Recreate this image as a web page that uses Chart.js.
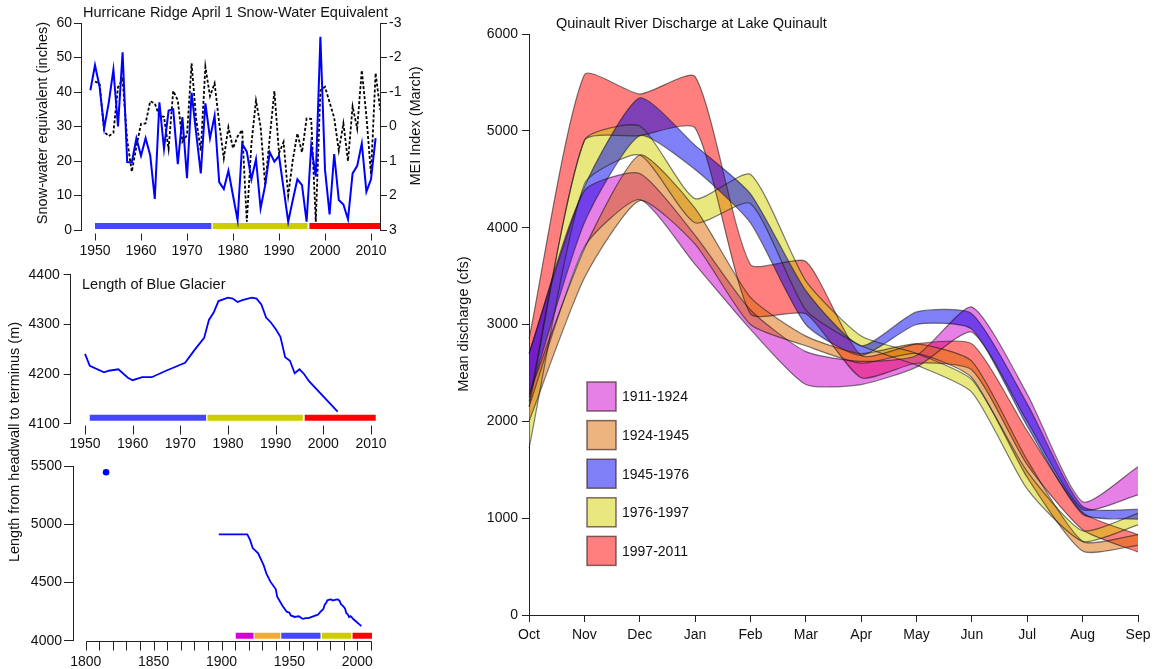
<!DOCTYPE html>
<html>
<head>
<meta charset="utf-8">
<script src="https://cdn.jsdelivr.net/npm/chart.js@4"></script>
<style>
  html, body { margin: 0; padding: 0; background: #fff; }
  .layer { position: absolute; left: 0; top: 0; width: 1156px; height: 669px; pointer-events: none; }
</style>
</head>
<body>
<div class="layer"><canvas id="swe" width="1156" height="669"></canvas></div>
<div class="layer"><canvas id="blueGlacier" width="1156" height="669"></canvas></div>
<div class="layer"><canvas id="longGlacier" width="1156" height="669"></canvas></div>
<div class="layer"><canvas id="river" width="1156" height="669"></canvas></div>
<script>
// ---------------- data ----------------
// Hurricane Ridge April 1 snow-water equivalent (inches)
const sweYears = [1949,1950,1951,1952,1953,1954,1955,1956,1957,1958,1959,1960,1961,1962,1963,1964,1965,1966,1967,1968,1969,1970,1971,1972,1973,1974,1975,1976,1977,1978,1979,1980,1981,1982,1983,1984,1985,1986,1987,1988,1989,1990,1991,1992,1993,1994,1995,1996,1997,1998,1999,2000,2001,2002,2003,2004,2005,2006,2007,2008,2009,2010,2011];
const sweInches = [40.5,47.8,41.5,29.5,37,46.5,30,51.5,19.7,19.6,26.6,21.5,26.6,21.7,9,37,23.5,34.6,35,19.1,32.7,15,39.8,28,16.4,36.7,26.6,33.1,13.9,11.9,17.2,10,2.9,25,22.7,14.7,20.5,6.3,13,22.5,19.8,21.5,12,2.4,8.7,14.7,13,2.4,24.4,15.5,56,17.5,4.5,22,8.7,7.4,3.1,16.4,18.6,25.1,11.1,14.7,26.6];

// March MEI index
const meiYears = [1950,1951,1952,1953,1954,1955,1956,1957,1958,1959,1960,1961,1962,1963,1964,1965,1966,1967,1968,1969,1970,1971,1972,1973,1974,1975,1976,1977,1978,1979,1980,1981,1982,1983,1984,1985,1986,1987,1988,1989,1990,1991,1992,1993,1994,1995,1996,1997,1998,1999,2000,2001,2002,2003,2004,2005,2006,2007,2008,2009,2010,2011,2012];
const meiMarch = [-1.3,-1.25,0.15,0.28,0.18,-1.14,-1.37,0.4,1.31,0.58,-0.08,-0.09,-0.73,-0.67,-0.3,-0.28,0.65,-1.03,-0.76,0.44,0.25,-1.83,-0.2,0.7,-1.73,-0.88,-1.25,-0.1,0.92,0.02,0.63,0.29,0.1,2.76,0.5,-0.75,0.0,1.71,0.3,-1.03,0.77,0.45,2.0,0.97,0.2,0.75,-0.23,-0.22,2.76,-1.05,-1.15,-0.7,-0.25,0.7,-0.09,1.0,-0.58,0.06,-1.63,-0.3,1.38,-1.55,-0.48];

// Blue Glacier length from headwall to terminus (m)
const glacierYears = [1898,1919,1921,1923,1927,1931,1933,1936,1940,1941,1945,1948,1950,1951,1954,1955,1957,1959,1960,1962,1964,1967,1970,1971,1973,1975,1976,1977,1978,1980,1981,1982,1983,1985,1986,1987,1988,1989,1990,1991,1992,1993,1994,1995,1996,1997,2003];
const glacierLength = [4913,4913,4865,4795,4750,4650,4578,4507,4441,4378,4298,4249,4241,4217,4204,4207,4210,4193,4188,4194,4194,4207,4219,4223,4249,4273,4309,4324,4347,4354,4352,4345,4349,4354,4352,4340,4314,4304,4291,4275,4234,4227,4202,4210,4200,4186,4125];
// Little Ice Age moraine position
const moraineYear = [1815];
const moraineLength = [5446];

// period spans shown as coloured bars under each series
const sweBarSpans = [[1950,1975.3],[1975.6,1996.2],[1996.6,2012]];
const blueBarSpans = [[1951,1975.4],[1975.7,1995.7],[1996.1,2011]];
const longBarSpans = [[1910.5,1923.6],[1924.3,1943.3],[1944,1972.9],[1974,1995.6],[1996.5,2010.8]];
const threeBarColors = ['#4646ff', '#cccc00', '#ff0000'];
const fiveBarColors = ['#d400d4', '#f4aa33', '#4646ff', '#cccc00', '#ff0000'];

// Quinault River mean monthly discharge bands (cfs), low / high edge
const months = ['Oct','Nov','Dec','Jan','Feb','Mar','Apr','May','Jun','Jul','Aug','Sep'];
const periodNames = ['1911-1924','1924-1945','1945-1976','1976-1997','1997-2011'];
const q1911Low  = [2150,3800,4290,3620,2950,2380,2380,2560,2920,2000,1090,1240];
const q1911High = [2700,4380,4560,3920,3150,2720,2620,2680,3180,2280,1170,1530];
const q1924Low  = [2000,3480,4280,3830,3000,2780,2600,2700,2450,1420,660,720];
const q1924High = [2280,3780,4750,4200,3280,2880,2700,2800,2620,1600,760,830];
const q1945Low  = [2250,4050,4950,4600,4050,3000,2680,3000,2950,1950,1040,990];
const q1945High = [2700,4420,5340,4850,4350,3350,2780,3130,3110,2180,1120,1090];
const q1976Low  = [1720,4450,4750,4050,4250,3150,2780,2580,2300,1300,760,930];
const q1976High = [2200,4900,5050,4300,4550,3450,2880,2700,2430,1480,870,1050];
const q1997Low  = [2150,4900,4950,5030,3110,3110,2450,2600,2530,1550,880,650];
const q1997High = [2850,5580,5380,5560,3620,3650,2680,2800,2800,1900,1060,830];

// ---------------- shared styling ----------------
const FONT = 'Liberation Sans, Arial, Helvetica, sans-serif';
const INK = '#111';
const AXIS = '#222';
const tickFont = { family: FONT, size: 14 };

const bandFill = {
  '1911-1924': 'rgba(205,0,205,0.5)',
  '1924-1945': 'rgba(220,105,0,0.5)',
  '1945-1976': 'rgba(0,0,240,0.5)',
  '1976-1997': 'rgba(210,210,0,0.5)',
  '1997-2011': 'rgba(255,0,0,0.5)'
};

function xy(xs, ys) { return xs.map((x, i) => ({ x: x, y: ys[i] })); }
const plain = v => String(v);

// free text: titles and axis captions
const panelText = {
  id: 'panelText',
  afterDraw(chart, args, opts) {
    const ctx = chart.ctx;
    (opts.items || []).forEach(it => {
      ctx.save();
      ctx.font = (it.size || 14) + 'px ' + FONT;
      ctx.fillStyle = INK;
      ctx.textAlign = it.align || 'left';
      ctx.textBaseline = 'middle';
      ctx.translate(it.x, it.y);
      if (it.rot) ctx.rotate(it.rot);
      ctx.fillText(it.text, 0, 0);
      ctx.restore();
    });
  }
};

// base-graphics style x axis: ticks hanging below, line from first to last tick
const hangingAxis = {
  id: 'hangingAxis',
  afterDraw(chart, args, opts) {
    if (opts.offset === undefined) return;
    const s = chart.scales.x, ctx = chart.ctx;
    const y0 = Math.round(chart.chartArea.bottom + opts.offset) + 0.5;
    const px = s.ticks.map(t => Math.round(s.getPixelForValue(t.value)) + 0.5);
    ctx.save();
    ctx.strokeStyle = AXIS;
    ctx.lineWidth = 1;
    ctx.beginPath();
    if (opts.line) { ctx.moveTo(px[0], y0); ctx.lineTo(px[px.length - 1], y0); }
    px.forEach(p => { ctx.moveTo(p, y0); ctx.lineTo(p, y0 + opts.len); });
    ctx.stroke();
    ctx.restore();
  }
};

// boxed legend inside the discharge plot
const bandLegend = {
  id: 'bandLegend',
  afterDraw(chart, args, opts) {
    if (!opts.x) return;
    const ctx = chart.ctx;
    periodNames.forEach((name, i) => {
      const top = opts.y + i * opts.step;
      ctx.save();
      ctx.fillStyle = bandFill[name];
      ctx.fillRect(opts.x, top, opts.size, opts.size);
      ctx.strokeStyle = 'rgba(60,30,30,0.65)';
      ctx.lineWidth = 1.5;
      ctx.strokeRect(opts.x, top, opts.size, opts.size);
      ctx.fillStyle = INK;
      ctx.font = '14px ' + FONT;
      ctx.textAlign = 'left';
      ctx.textBaseline = 'middle';
      ctx.fillText(name, opts.x + opts.size + 6, top + opts.size / 2 + 1);
      ctx.restore();
    });
  }
};

Chart.register(panelText, hangingAxis, bandLegend);

function barSets(spans, colors, level, axisId) {
  return spans.map((sp, i) => ({
    data: [{ x: sp[0], y: level }, { x: sp[1], y: level }],
    borderColor: colors[i], borderWidth: 6, borderCapStyle: 'butt',
    pointRadius: 0, yAxisID: axisId, tension: 0
  }));
}

function yAxis(opts) {
  return Object.assign({
    ticks: { font: tickFont, color: INK, padding: 2, callback: plain },
    grid: { drawOnChartArea: false, tickLength: 7, color: AXIS, tickWidth: 1 },
    border: { display: true, color: AXIS, width: 1 }
  }, opts);
}

function fixedTicks(values) {
  return s => { s.ticks = values.map(v => ({ value: v })); };
}

const baseOptions = () => ({
  responsive: false, animation: false, events: [],
  plugins: { legend: { display: false }, tooltip: { enabled: false } },
  elements: { point: { radius: 0 } }
});

// ---------------- panel 1: snow-water equivalent and MEI ----------------
(function () {
  const o = baseOptions();
  o.layout = { padding: { left: 0, top: 23, right: 1156 - 380 - 60, bottom: 0 } };
  o.plugins.panelText = { items: [
    { text: 'Hurricane Ridge April 1 Snow-Water Equivalent', x: 83, y: 13, size: 14.5 },
    { text: 'Snow-water equivalent (inches)', x: 43, y: 123, rot: -Math.PI / 2, align: 'center', size: 14.5 },
    { text: 'MEI Index (March)', x: 416, y: 126, rot: -Math.PI / 2, align: 'center', size: 14.5 }
  ] };
  o.plugins.hangingAxis = { offset: 3, len: 7, line: false };
  o.scales = {
    x: {
      type: 'linear', min: 1946.957, max: 2011.957,
      afterBuildTicks: fixedTicks([1950, 1960, 1970, 1980, 1990, 2000, 2010]),
      afterFit: s => { s.height = 669 - 230; },
      grid: { display: false, drawTicks: false }, border: { display: false },
      ticks: { font: tickFont, color: INK, padding: 12.6, autoSkip: false, maxRotation: 0, minRotation: 0, callback: plain }
    },
    y: yAxis({ position: 'left', min: 0, max: 60, afterFit: s => { s.width = 81; },
      ticks: { font: tickFont, color: INK, padding: 2, stepSize: 10, callback: plain } }),
    y2: yAxis({ position: 'right', min: -3, max: 3, reverse: true, afterFit: s => { s.width = 60; },
      ticks: { font: tickFont, color: INK, padding: 2, stepSize: 1, callback: plain } })
  };
  new Chart(document.getElementById('swe'), {
    type: 'line',
    data: { datasets: [
      { data: xy(sweYears, sweInches), yAxisID: 'y', borderColor: '#0000ff', borderWidth: 2, pointRadius: 0, tension: 0 },
      { data: xy(meiYears, meiMarch), yAxisID: 'y2', borderColor: '#000', borderWidth: 1.8, borderDash: [3, 2], pointRadius: 0, tension: 0 }
    ].concat(barSets(sweBarSpans, threeBarColors, 1.16, 'y')) },
    options: o
  });
})();

// ---------------- panel 2: Blue Glacier since 1950 ----------------
(function () {
  const o = baseOptions();
  o.layout = { padding: { left: 0, top: 274.7, right: 1156 - 380.5, bottom: 0 } };
  o.plugins.panelText = { items: [
    { text: 'Length of Blue Glacier', x: 82, y: 285, size: 14.5 }
  ] };
  o.plugins.hangingAxis = { offset: 1, len: 9, line: false };
  const yrs = glacierYears.filter(y => y >= 1950);
  const len = glacierLength.filter((v, i) => glacierYears[i] >= 1950);
  o.scales = {
    x: {
      type: 'linear', min: 1947, max: 2012,
      afterBuildTicks: fixedTicks([1950, 1960, 1970, 1980, 1990, 2000, 2010]),
      afterFit: s => { s.height = 669 - 424; },
      grid: { display: false, drawTicks: false }, border: { display: false },
      ticks: { font: tickFont, color: INK, padding: 11.6, autoSkip: false, maxRotation: 0, minRotation: 0, callback: plain }
    },
    y: yAxis({ position: 'left', min: 4100, max: 4400, afterFit: s => { s.width = 70.7; },
      ticks: { font: tickFont, color: INK, padding: 4, stepSize: 100, callback: plain } })
  };
  new Chart(document.getElementById('blueGlacier'), {
    type: 'line',
    data: { datasets: [
      { data: xy(yrs, len), borderColor: '#0000ff', borderWidth: 1.8, pointRadius: 0, tension: 0 }
    ].concat(barSets(blueBarSpans, threeBarColors, 4112.7, 'y')) },
    options: o
  });
})();

// ---------------- panel 3: Blue Glacier since the Little Ice Age ----------------
(function () {
  const o = baseOptions();
  o.layout = { padding: { left: 0, top: 466, right: 1156 - 373.6, bottom: 0 } };
  o.plugins.panelText = { items: [
    { text: 'Length from headwall to terminus (m)', x: 15, y: 442, rot: -Math.PI / 2, align: 'center', size: 14.5 }
  ] };
  o.plugins.hangingAxis = { offset: 0, len: 9, line: true };
  const decades = [1800,1810,1820,1830,1840,1850,1860,1870,1880,1890,1900,1910,1920,1930,1940,1950,1960,1970,1980,1990,2000,2010];
  o.scales = {
    x: {
      type: 'linear', min: 1790.65, max: 2012,
      afterBuildTicks: fixedTicks(decades),
      afterFit: s => { s.height = 669 - 640.7; },
      grid: { display: false, drawTicks: false }, border: { display: false },
      ticks: { font: tickFont, color: INK, padding: 12.6, autoSkip: false, maxRotation: 0, minRotation: 0,
        callback: v => (v % 50 === 0 ? String(v) : '') }
    },
    y: yAxis({ position: 'left', min: 4000, max: 5500, afterFit: s => { s.width = 73; },
      grid: { drawOnChartArea: false, tickLength: 9, color: AXIS },
      ticks: { font: tickFont, color: INK, padding: 2, stepSize: 500, callback: plain } })
  };
  new Chart(document.getElementById('longGlacier'), {
    type: 'line',
    data: { datasets: [
      { data: xy(glacierYears, glacierLength), borderColor: '#0000ff', borderWidth: 1.8, pointRadius: 0, tension: 0 },
      { data: xy(moraineYear, moraineLength), showLine: false, pointRadius: 3.3, pointBackgroundColor: '#0000ff', pointBorderWidth: 0 }
    ].concat(barSets(longBarSpans, fiveBarColors, 4042.9, 'y')) },
    options: o
  });
})();

// ---------------- panel 4: Quinault River discharge bands ----------------
(function () {
  const o = baseOptions();
  o.layout = { padding: { left: 0, top: 34, right: 1156 - 1138, bottom: 0 } };
  o.plugins.panelText = { items: [
    { text: 'Quinault River Discharge at Lake Quinault', x: 556, y: 24, size: 14.5 },
    { text: 'Mean discharge (cfs)', x: 464, y: 324, rot: -Math.PI / 2, align: 'center', size: 14.5 }
  ] };
  o.plugins.bandLegend = { x: 587, y: 382, size: 29, step: 38.6 };
  o.plugins.filler = { drawTime: 'beforeDatasetsDraw', propagate: false };
  o.scales = {
    x: {
      type: 'category', offset: false,
      afterFit: s => { s.height = 669 - 615; },
      grid: { drawOnChartArea: false, tickLength: 7, color: AXIS },
      border: { display: true, color: AXIS },
      ticks: { font: tickFont, color: INK, padding: 4.6, autoSkip: false, maxRotation: 0 }
    },
    y: yAxis({ position: 'left', min: 0, max: 6000, afterFit: s => { s.width = 529; },
      ticks: { font: tickFont, color: INK, padding: 4, stepSize: 1000, callback: plain } })
  };
  const edge = 'rgba(20,20,20,0.55)';
  function band(lo, hi, name) {
    return [
      { data: lo, borderColor: edge, borderWidth: 1.2, pointRadius: 0, tension: 0.2, fill: false },
      { data: hi, borderColor: edge, borderWidth: 1.2, pointRadius: 0, tension: 0.2, fill: '-1', backgroundColor: bandFill[name] }
    ];
  }
  // later datasets sit underneath earlier ones
  const sets = [].concat(
    band(q1924Low, q1924High, '1924-1945'),
    band(q1945Low, q1945High, '1945-1976'),
    band(q1911Low, q1911High, '1911-1924'),
    band(q1976Low, q1976High, '1976-1997'),
    band(q1997Low, q1997High, '1997-2011')
  );
  new Chart(document.getElementById('river'), {
    type: 'line',
    data: { labels: months, datasets: sets },
    options: o
  });
})();
</script>
</body>
</html>
